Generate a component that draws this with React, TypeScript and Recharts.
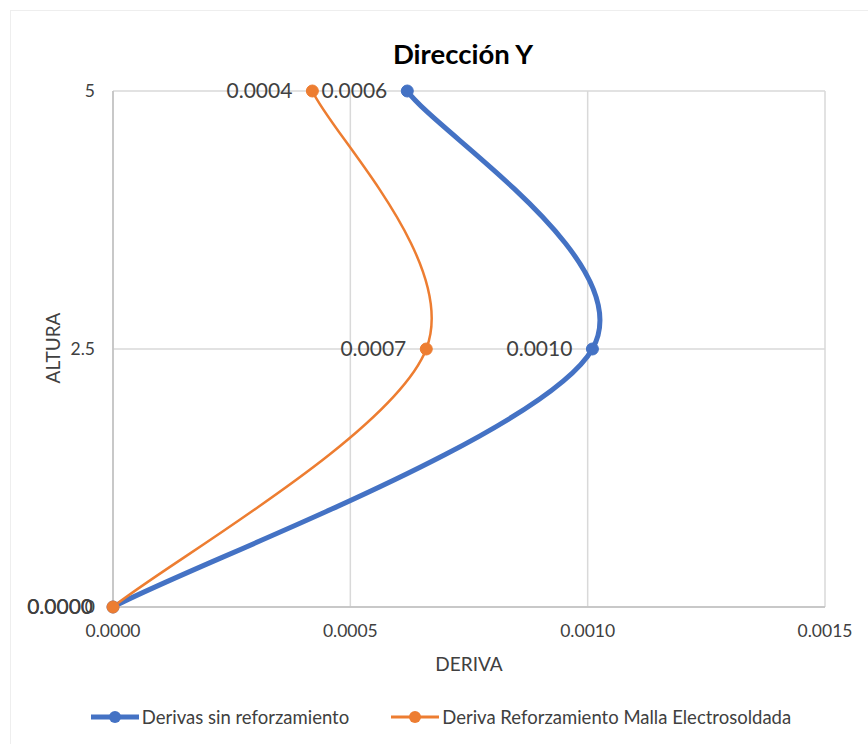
import React from 'react';
import { LineChart, Line, XAxis, YAxis, CartesianGrid, LabelList, Legend } from 'recharts';

const alturas = [0, 2.5, 5];
const derivasSinRefuerzo = [0, 0.00101, 0.00062];
const derivasMalla = [0, 0.00066, 0.00042];
const xTicks = [0, 0.0005, 0.001, 0.0015];
const yTicks = [0, 2.5, 5];
const seriesNames = ['Derivas sin reforzamiento', 'Deriva Reforzamiento Malla Electrosoldada'];
const colors = ['#4472C4', '#ED7D31'];

const data = alturas.map((h, i) => ({ altura: h, sin: derivasSinRefuerzo[i], malla: derivasMalla[i] }));

// Excel-like smoothing (Catmull-Rom style bezier)
const excelCurve = (context: any) => {
  let pts: number[][] = [];
  return {
    areaStart() {},
    areaEnd() {},
    lineStart() { pts = []; },
    point(x: number, y: number) { pts.push([+x, +y]); },
    lineEnd() {
      if (!pts.length) return;
      context.moveTo(pts[0][0], pts[0][1]);
      for (let i = 0; i < pts.length - 1; i++) {
        const p0 = pts[Math.max(i - 1, 0)];
        const p1 = pts[i];
        const p2 = pts[i + 1];
        const p3 = pts[Math.min(i + 2, pts.length - 1)];
        context.bezierCurveTo(
          p1[0] + (p2[0] - p0[0]) / 6, p1[1] + (p2[1] - p0[1]) / 6,
          p2[0] - (p3[0] - p1[0]) / 6, p2[1] - (p3[1] - p1[1]) / 6,
          p2[0], p2[1]
        );
      }
    },
  };
};

const FONT = 'Lato, "Open Sans", sans-serif';
const TXT = '#404040';

const LegendContent = () => (
  <div style={{ display: 'flex', justifyContent: 'center', alignItems: 'center', fontFamily: FONT, fontSize: 18.5, color: TXT, paddingLeft: 14 }}>
    {seriesNames.map((n, i) => (
      <div key={n} style={{ display: 'flex', alignItems: 'center', marginRight: i === 0 ? 42 : 0 }}>
        <svg width={48} height={14} style={{ marginRight: 3 }}>
          <line x1={0} y1={7} x2={48} y2={7} stroke={colors[i]} strokeWidth={i === 0 ? 5 : 3} strokeLinecap="round" />
          <circle cx={24} cy={7} r={6} fill={colors[i]} />
        </svg>
        <span>{n}</span>
      </div>
    ))}
  </div>
);

export default function App() {
  return (
    <div style={{ position: 'absolute', left: 0, top: 0, width: 868, height: 744, background: '#fff', fontFamily: FONT }}>
      <div style={{ position: 'absolute', left: 10, top: 10, width: 900, height: 800, border: '1px solid #eeeeee' }} />
      <LineChart
        width={868}
        height={744}
        data={data}
        layout="vertical"
        margin={{ top: 91, right: 43, left: 0, bottom: 0 }}
        style={{ position: 'absolute', left: 0, top: 0 }}
      >
        <CartesianGrid stroke="#d9d9d9" strokeWidth={1.5} />
        <XAxis
          type="number"
          dataKey="sin"
          domain={[0, 0.0015]}
          ticks={xTicks}
          tickFormatter={(v: number) => v.toFixed(4)}
          height={137}
          axisLine={{ stroke: '#bfbfbf', strokeWidth: 1.5 }}
          tickLine={false}
          tickMargin={12}
          tick={{ fill: TXT, fontSize: 17.5, fontFamily: FONT }}
        />
        <YAxis
          type="number"
          dataKey="altura"
          domain={[0, 5]}
          ticks={yTicks}
          width={113}
          reversed
          axisLine={{ stroke: '#bfbfbf', strokeWidth: 1.5 }}
          tickLine={false}
          tickMargin={12}
          tick={{ fill: TXT, fontSize: 17.5, fontFamily: FONT }}
        />
        <Line
          dataKey="sin"
          name={seriesNames[0]}
          type={excelCurve as any}
          stroke={colors[0]}
          strokeWidth={5}
          dot={{ r: 6, fill: colors[0], stroke: colors[0], strokeWidth: 1 }}
          isAnimationActive={false}
        >
          <LabelList dataKey="sin" position="left" offset={20} formatter={(v: any) => Number(v).toFixed(4)} style={{ fill: TXT, fontSize: 21, fontFamily: FONT }} />
        </Line>
        <Line
          dataKey="malla"
          name={seriesNames[1]}
          type={excelCurve as any}
          stroke={colors[1]}
          strokeWidth={2.5}
          dot={{ r: 6, fill: colors[1], stroke: colors[1], strokeWidth: 1 }}
          isAnimationActive={false}
        >
          <LabelList dataKey="malla" position="left" offset={20} formatter={(v: any) => Number(v).toFixed(4)} style={{ fill: TXT, fontSize: 21, fontFamily: FONT }} />
        </Line>
        <Legend
          verticalAlign="middle"
          align="center"
          content={<LegendContent />}
          wrapperStyle={{ top: 706, left: 0, width: 868 }}
        />
      </LineChart>
      <div style={{ position: 'absolute', left: 463, top: 53, transform: 'translate(-50%, -50%)', fontWeight: 700, fontSize: 27.5, color: '#000', fontFamily: FONT, whiteSpace: 'nowrap' }}>
        Dirección Y
      </div>
      <div style={{ position: 'absolute', left: 469, top: 663, transform: 'translate(-50%, -50%)', fontSize: 19, color: TXT, whiteSpace: 'nowrap' }}>
        DERIVA
      </div>
      <div style={{ position: 'absolute', left: 52, top: 348, transform: 'translate(-50%, -50%) rotate(-90deg)', fontSize: 19, color: TXT, whiteSpace: 'nowrap' }}>
        ALTURA
      </div>
    </div>
  );
}
